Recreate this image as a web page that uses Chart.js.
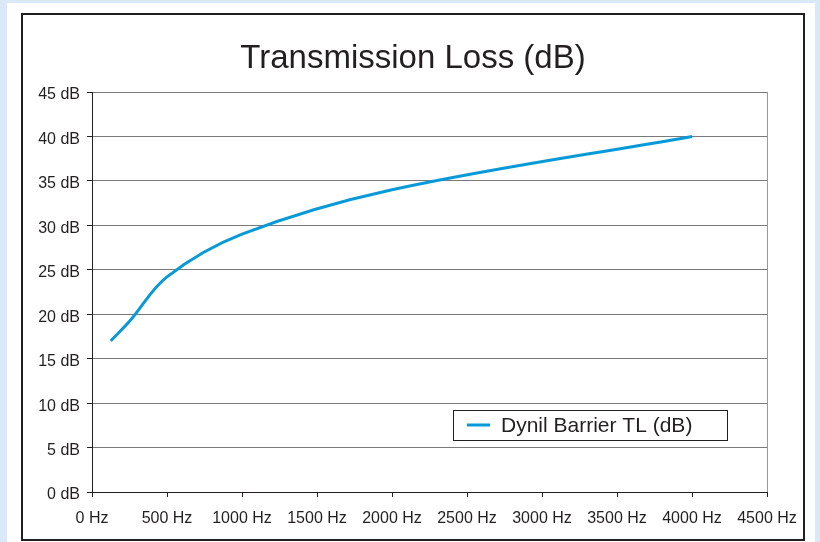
<!DOCTYPE html>
<html>
<head>
<meta charset="utf-8">
<script src="https://cdn.jsdelivr.net/npm/chart.js@4.4.0/dist/chart.umd.min.js"></script>
<style>
  html, body { margin: 0; padding: 0; background: #d9e9f7; }
  #wrap { width: 820px; height: 542px; position: relative; }
</style>
</head>
<body>
<div id="wrap"><canvas id="tlChart" width="820" height="542"></canvas></div>
<script>
// Values
const frequencies = [125, 250, 500, 1000, 2000, 4000];   // Hz
const transmissionLoss = [17, 19.2, 24.2, 29, 34, 40];    // dB
const seriesName = 'Dynil Barrier TL (dB)';
const chartTitle = 'Transmission Loss (dB)';

const FONT = "'Liberation Sans', Arial, Helvetica, sans-serif";

// Draws the page frame, title, plot border and the boxed legend
const framePlugin = {
    id: 'frame',
    beforeDraw(chart) {
        const ctx = chart.ctx;
        ctx.save();
        ctx.fillStyle = '#d9e9f7';
        ctx.fillRect(0, 0, chart.width, chart.height);
        ctx.fillStyle = '#ffffff';
        ctx.fillRect(7, 3, 808, 545);
        ctx.strokeStyle = '#231f20';
        ctx.lineWidth = 2;
        ctx.strokeRect(22, 14, 782, 526);
        ctx.restore();
    },
    afterDatasetsDraw(chart) {
        const ctx = chart.ctx;
        const area = chart.chartArea;
        ctx.save();
        // right edge of the plot area
        ctx.strokeStyle = '#999999';
        ctx.lineWidth = 1;
        ctx.beginPath();
        ctx.moveTo(area.right + 0.5, area.top);
        ctx.lineTo(area.right + 0.5, area.bottom);
        ctx.stroke();

        // title
        ctx.fillStyle = '#231f20';
        ctx.font = '33px ' + FONT;
        ctx.textAlign = 'center';
        ctx.textBaseline = 'middle';
        ctx.fillText(chartTitle, 413, 59);

        // legend
        const ds = chart.data.datasets[0];
        ctx.fillStyle = '#ffffff';
        ctx.fillRect(453, 410, 274, 30);
        ctx.strokeStyle = '#231f20';
        ctx.lineWidth = 1;
        ctx.strokeRect(453.5, 410.5, 274, 30);
        ctx.strokeStyle = ds.borderColor;
        ctx.lineWidth = 3;
        ctx.beginPath();
        ctx.moveTo(467, 425);
        ctx.lineTo(490, 425);
        ctx.stroke();
        ctx.fillStyle = '#231f20';
        ctx.font = '21px ' + FONT;
        ctx.textAlign = 'left';
        ctx.fillText(ds.label, 501, 426);
        ctx.restore();
    }
};

const ctx = document.getElementById('tlChart').getContext('2d');

new Chart(ctx, {
    type: 'line',
    data: {
        datasets: [{
            label: seriesName,
            data: frequencies.map((f, i) => ({ x: f, y: transmissionLoss[i] })),
            borderColor: '#0899d8',
            borderWidth: 3,
            pointRadius: 0,
            tension: 0.35,
            fill: false
        }]
    },
    options: {
        responsive: false,
        animation: false,
        layout: {
            padding: { left: 0, right: 53, top: 92, bottom: 0 }
        },
        plugins: {
            legend: { display: false },
            title: { display: false },
            tooltip: { enabled: false }
        },
        scales: {
            x: {
                type: 'linear',
                min: 0,
                max: 4500,
                afterFit: (scale) => { scale.height = 50; },
                ticks: {
                    stepSize: 500,
                    color: '#231f20',
                    font: { family: FONT, size: 16 },
                    padding: 12,
                    maxRotation: 0,
                    callback: (v) => `${v} Hz`
                },
                grid: {
                    drawOnChartArea: false,
                    color: '#231f20',
                    tickColor: '#231f20',
                    tickLength: 5
                },
                border: { color: '#231f20', width: 1 }
            },
            y: {
                min: 0,
                max: 45,
                afterFit: (scale) => { scale.width = 92; },
                ticks: {
                    stepSize: 5,
                    color: '#231f20',
                    font: { family: FONT, size: 16 },
                    padding: 7,
                    labelOffset: 3,
                    callback: (v) => `${v} dB`
                },
                grid: {
                    color: '#7a7a7a',
                    tickColor: '#231f20',
                    tickLength: 5
                },
                border: { color: '#231f20', width: 1 }
            }
        }
    },
    plugins: [framePlugin]
});
</script>
</body>
</html>
